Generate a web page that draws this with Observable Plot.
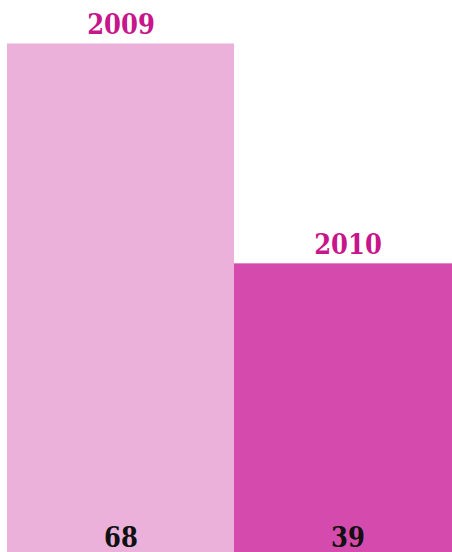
<!DOCTYPE html>
<html><head><meta charset="utf-8">
<script src="https://cdn.jsdelivr.net/npm/d3@7"></script>
<script src="https://cdn.jsdelivr.net/npm/@observablehq/plot@0.6"></script>
<style>
html,body{margin:0;padding:0;background:#fff;overflow:hidden;}
svg text{font-stretch:condensed;}
</style>
</head><body><div id="chart"></div>
<script>
const years = ["2009", "2010"];
const values = [68, 39];
const colors = ["#ecb1da", "#d54aad"];

const data = years.map((y, i) => ({year: y, value: values[i], color: colors[i]}));

const chart = Plot.plot({
  width: 452,
  height: 552,
  margin: 0,
  style: {background: "#fff", fontFamily: "'DejaVu Serif Condensed', 'DejaVu Serif'", overflow: "hidden"},
  x: {domain: years, range: [7, 461], padding: 0, axis: null},
  y: {domain: [0, 68], range: [559, 43.5], axis: null},
  marks: [
    Plot.barY(data, {x: "year", y: "value", fill: "color"}),
    Plot.text(data, {x: "year", y: "value", text: "year", dy: -10, lineAnchor: "bottom",
      fill: "#c7168b", fontSize: 27, fontWeight: "bold"}),
    Plot.text(data, {x: "year", y: 0, text: d => String(d.value), dy: -13, lineAnchor: "bottom",
      fill: "#111", fontSize: 27, fontWeight: "bold"})
  ]
});
document.getElementById("chart").appendChild(chart);
</script>
</body></html>
